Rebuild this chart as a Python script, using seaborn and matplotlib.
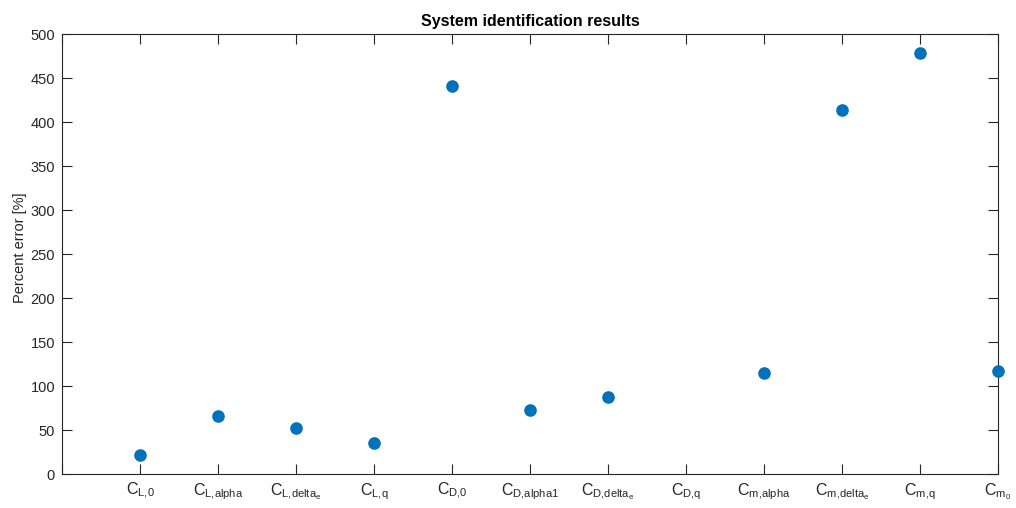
import matplotlib
matplotlib.use("Agg")
import matplotlib.pyplot as plt
import seaborn as sns
import numpy as np
import pandas as pd

# Identified aerodynamic coefficients and their percent error
coefficients = [r"C_{L{,}0}", r"C_{L{,}alpha}", r"C_{L{,}delta_e}", r"C_{L{,}q}",
                r"C_{D{,}0}", r"C_{D{,}alpha1}", r"C_{D{,}delta_e}", r"C_{D{,}q}",
                r"C_{m{,}alpha}", r"C_{m{,}delta_e}", r"C_{m{,}q}", r"C_{m_0}"]
percent_error = [21.5, 66, 52.5, 35.5, 441, 73, 87, np.nan, 115, 414, 478, 116.5]
positions = list(range(1, len(coefficients) + 1))

sns.set_theme(style="white")
plt.rcParams["font.family"] = ["Liberation Sans", "DejaVu Sans"]
plt.rcParams["mathtext.fontset"] = "custom"
plt.rcParams["mathtext.rm"] = "Liberation Sans"
plt.rcParams["mathtext.it"] = "Liberation Sans"

df = pd.DataFrame({"pos": positions, "err": percent_error})

fig = plt.figure(figsize=(10.16, 5.08), dpi=100)
ax = fig.add_axes([62 / 1016, 34 / 508, 936 / 1016, 440 / 508])

sns.scatterplot(data=df, x="pos", y="err", ax=ax, color="#0072BD",
                s=65, edgecolor="#0072BD", linewidth=1.0, marker="o", zorder=3,
                clip_on=False)

ax.set_xlim(0, 12)
ax.set_ylim(0, 500)
ax.set_xticks(range(0, 13))
ax.set_xticklabels([""] + [r"$\mathrm{" + c + "}$" for c in coefficients])
ax.set_yticks(range(0, 501, 50))

axis_color = "#262626"
for sp in ax.spines.values():
    sp.set_visible(True)
    sp.set_color(axis_color)
    sp.set_linewidth(0.8)

ax.tick_params(axis="both", which="major", direction="in", length=7, width=0.8,
               colors=axis_color, labelsize=10.5, top=True, right=True,
               bottom=True, left=True, pad=5)
for lbl in ax.get_xticklabels() + ax.get_yticklabels():
    lbl.set_color(axis_color)
for lbl in ax.get_xticklabels():
    lbl.set_fontsize(11.5)

ax.set_xlabel("")
ax.set_ylabel("Percent error [%]", fontsize=10.5, color=axis_color)
ax.yaxis.set_label_coords(-0.037, 0.515)
ax.set_title("System identification results", fontsize=11.5, fontweight="bold",
             color="black", pad=6)

fig.savefig("out.png", dpi=100)
